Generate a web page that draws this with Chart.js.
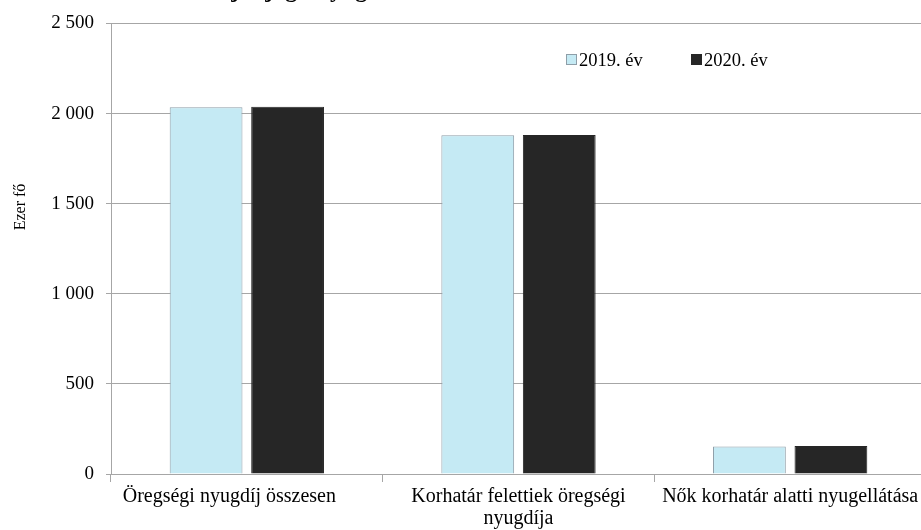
<!DOCTYPE html>
<html>
<head>
<meta charset="utf-8">
<script src="https://cdn.jsdelivr.net/npm/chart.js@4"></script>
<style>
  html, body { margin: 0; padding: 0; background: #fff; overflow: hidden; }
  #wrap { position: relative; width: 926px; height: 530px; }
</style>
</head>
<body>
<div id="wrap"><canvas id="c"></canvas></div>
<script>
const titleText = 'Saját jogú nyugellátásban részesülők száma';
const yAxisTitle = 'Ezer fő';
const categories = ['Öregségi nyugdíj összesen', ['Korhatár felettiek öregségi', 'nyugdíja'], 'Nők korhatár alatti nyugellátása'];
const seriesNames = ['2019. év', '2020. év'];
const values2019 = [2035, 1880, 153];
const values2020 = [2038, 1881, 155];
const yTicks = [0, 500, 1000, 1500, 2000, 2500];

const FONT = "'Liberation Serif', 'Times New Roman', serif";
const COLORS = ['#C5EAF4', '#262626'];
const BORDERS = ['#8E9EA8', '#262626'];

const overlay = {
  id: 'overlay',
  afterDraw(chart) {
    const ctx = chart.ctx;
    ctx.save();
    // cut-off title (only descenders remain visible, as in the reference)
    ctx.fillStyle = '#000';
    ctx.font = "bold 24px " + FONT;
    ctx.textAlign = 'center';
    ctx.textBaseline = 'alphabetic';
    ctx.fillText(titleText, 430, -3);
    // y axis title
    ctx.save();
    ctx.translate(21, 207);
    ctx.rotate(-Math.PI / 2);
    ctx.font = "16px " + FONT;
    ctx.textAlign = 'center';
    ctx.textBaseline = 'middle';
    ctx.fillText(yAxisTitle, 0, 0);
    ctx.restore();
    // legend
    const items = [{x: 566}, {x: 691}];
    ctx.font = "18.5px " + FONT;
    ctx.textAlign = 'left';
    ctx.textBaseline = 'alphabetic';
    chart.data.datasets.forEach((ds, i) => {
      const x = items[i].x;
      ctx.fillStyle = ds.backgroundColor;
      ctx.fillRect(x, 54, 11, 11);
      ctx.strokeStyle = ds.borderColor;
      ctx.lineWidth = 1;
      ctx.strokeRect(x + 0.5, 54.5, 10, 10);
      ctx.fillStyle = '#000';
      ctx.fillText(ds.label, x + 13, 66);
    });
    ctx.restore();
  }
};

new Chart(document.getElementById('c'), {
  type: 'bar',
  data: {
    labels: categories,
    datasets: [
      { label: seriesNames[0], data: values2019, backgroundColor: COLORS[0], borderColor: BORDERS[0], borderWidth: 1 },
      { label: seriesNames[1], data: values2020, backgroundColor: COLORS[1], borderColor: BORDERS[1], borderWidth: 1 }
    ]
  },
  options: {
    responsive: true,
    maintainAspectRatio: false,
    animation: false,
    devicePixelRatio: 1,
    categoryPercentage: 0.6,
    barPercentage: 0.893,
    layout: { padding: { top: 21, left: 0, right: 0, bottom: 0 } },
    plugins: {
      legend: { display: false },
      title: { display: false },
      tooltip: { enabled: false }
    },
    scales: {
      x: {
        grid: { offset: true, drawOnChartArea: false, drawTicks: true, tickLength: 8, color: '#A6A6A6' },
        border: { color: '#A6A6A6', width: 1 },
        ticks: {
          color: '#000', font: { family: FONT, size: 20, lineHeight: 1.1 }, padding: 4, maxRotation: 0, autoSkip: false,
          // the first label sits left of its category centre in the reference
          callback: function (v, i) { const l = this.getLabelForValue(v); return i === 0 ? l + '       ' : categories[i]; }
        },
        afterFit(s) { s.height = 56; }
      },
      y: {
        min: 0, max: 2500,
        afterBuildTicks(s) { s.ticks = yTicks.map(v => ({ value: v })); },
        grid: { color: '#A6A6A6', tickLength: 5, drawTicks: true },
        border: { color: '#A6A6A6', width: 1 },
        ticks: {
          color: '#000', font: { family: FONT, size: 19 }, padding: 12,
          callback: v => String(v).replace(/\B(?=(\d{3})+(?!\d))/g, ' ')
        },
        afterFit(s) { s.width = 111; }
      }
    }
  },
  plugins: [overlay]
});
</script>
</body>
</html>
